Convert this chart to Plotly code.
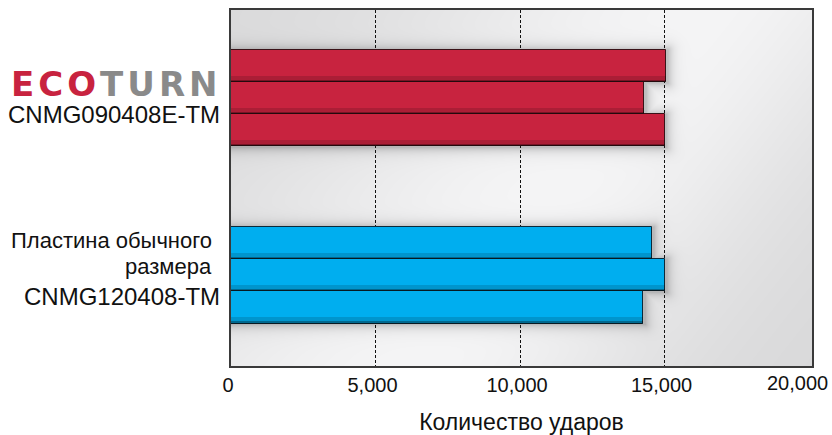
import base64, struct, zlib
import numpy as np
import plotly.graph_objects as go

# ---------------- data ----------------
ecoturn_label = "CNMG090408E-TM"
standard_label_lines = ["Пластина обычного", "размера", "CNMG120408-TM"]
ecoturn_hits = [15050, 14300, 15000]
standard_hits = [14570, 15020, 14270]
x_ticks = [0, 5000, 10000, 15000, 20000]
x_tick_labels = ["0", "5,000", "10,000", "15,000", "20,000"]
axis_title = "Количество ударов"

# ---------------- layout constants ----------------
W, H = 832, 435
L, R, T, B = 231, 20, 10, 69
PW, PH = W - L - R, H - T - B
XMAX = 20100
YMAX = 11.06
group_centers = [2.74, 8.24]
BW = 1.0
RED = "#c8233f"
BLUE = "#00aeef"


def ypos(center, n):
    return [center + (i - (n - 1) / 2) * BW for i in range(n)]


red_y = ypos(group_centers[0], len(ecoturn_hits))
blue_y = ypos(group_centers[1], len(standard_hits))

# ---------------- background gradient (styling) ----------------
X = L + np.arange(PW)[None, :] + 0.5
Y = T + np.arange(PH)[:, None] + 0.5
d = (X - 420) - 0.79 * (366 - Y)
sig = np.where(d > 0, 230.0, 300.0)
v = 0.848 + 0.112 * np.exp(-(d / sig) ** 2)

# soft shadow around bars, derived from the data
dist = np.full((PH, PW), 1e9)
for vals, ys in ((ecoturn_hits, red_y), (standard_hits, blue_y)):
    for val, yc in zip(vals, ys):
        x0, x1 = L, L + val / XMAX * PW + 2
        y0 = T + (yc - BW / 2) / YMAX * PH
        y1 = T + (yc + BW / 2) / YMAX * PH + 1
        dx = np.maximum(np.maximum(x0 - X, X - x1), 0)
        dy = np.maximum(np.maximum(y0 - Y, Y - y1), 0)
        dist = np.minimum(dist, np.sqrt(dx ** 2 + dy ** 2))
v = v * (1 - 0.22 * np.exp(-dist / 5.0))
img = np.clip(v * 255, 0, 255).astype(np.uint8)
rgb = np.stack([img, img, img + 1], axis=-1).clip(0, 255).astype(np.uint8)


def to_png(a):
    h, w, _ = a.shape
    raw = b"".join(b"\x00" + a[r].tobytes() for r in range(h))

    def chunk(t, data):
        c = struct.pack(">I", len(data)) + t + data
        return c + struct.pack(">I", zlib.crc32(t + data) & 0xFFFFFFFF)

    return (b"\x89PNG\r\n\x1a\n" + chunk(b"IHDR", struct.pack(">IIBBBBB", w, h, 8, 2, 0, 0, 0))
            + chunk(b"IDAT", zlib.compress(raw, 9)) + chunk(b"IEND", b""))


bg_src = "data:image/png;base64," + base64.b64encode(to_png(rgb)).decode()

# ---------------- figure ----------------
fig = go.Figure()
for vals, ys, col, edge in ((ecoturn_hits, red_y, RED, "#3a1218"),
                            (standard_hits, blue_y, BLUE, "#0b2a3a")):
    fig.add_trace(go.Bar(x=vals, y=ys, orientation="h", width=BW,
                         marker=dict(color=col, line=dict(color=edge, width=1)),
                         hoverinfo="x", showlegend=False))
    # darker shading at the lower edge of each bar
    fig.add_trace(go.Bar(x=vals, y=[y + BW / 2 - 0.1 for y in ys], orientation="h",
                         width=0.2, marker=dict(color="rgba(0,0,0,0.14)", line=dict(width=0)),
                         hoverinfo="skip", showlegend=False))
    fig.add_trace(go.Bar(x=vals, y=[y + BW / 2 - 0.035 for y in ys], orientation="h",
                         width=0.07, marker=dict(color="rgba(0,0,0,0.3)", line=dict(width=0)),
                         hoverinfo="skip", showlegend=False))


def py2paper(py):
    return 1 - (py - T) / PH


def px2paper(px):
    return (px - L) / PW


TXT = "#111111"
FONT = "Liberation Sans, Arial, sans-serif"
annotations = [
    dict(text='<b><span style="color:#c8233f;letter-spacing:4px">ECO</span>'
              '<span style="color:#8a8a8a;letter-spacing:4px">TURN</span></b>',
         font=dict(family="DejaVu Sans", size=34), x=px2paper(224), y=py2paper(84)),
    dict(text=ecoturn_label, font=dict(family=FONT, size=24, color=TXT),
         x=px2paper(222), y=py2paper(114)),
    dict(text=standard_label_lines[0], font=dict(family=FONT, size=22, color=TXT),
         x=px2paper(214), y=py2paper(240)),
    dict(text=standard_label_lines[1], font=dict(family=FONT, size=22, color=TXT),
         x=px2paper(214), y=py2paper(266)),
    dict(text=standard_label_lines[2], font=dict(family=FONT, size=24, color=TXT),
         x=px2paper(222), y=py2paper(296)),
    dict(text=x_tick_labels[-1], font=dict(family=FONT, size=20, color=TXT),
         x=px2paper(830), y=py2paper(383)),
]
for a in annotations:
    a.update(xref="paper", yref="paper", xanchor="right", yanchor="middle",
             showarrow=False)

fig.update_layout(
    width=W, height=H,
    margin=dict(l=L, r=R, t=T, b=B, autoexpand=False),
    paper_bgcolor="white", plot_bgcolor="#e2e2e2",
    barmode="overlay", bargap=0,
    images=[dict(source=bg_src, xref="paper", yref="paper", x=0, y=1, sizex=1, sizey=1,
                 sizing="stretch", xanchor="left", yanchor="top", layer="below")],
    annotations=annotations,
    xaxis=dict(range=[0, XMAX], tickvals=x_ticks[:-1], ticktext=x_tick_labels[:-1],
               tickfont=dict(family=FONT, size=20, color=TXT), ticks="",
               ticklabelshift=-3,
               showgrid=True, gridcolor="#111111", griddash="3px,2px", gridwidth=1,
               zeroline=False, showline=True, mirror=True, linecolor="#3a3a3a", linewidth=2,
               title=dict(text=axis_title, font=dict(family=FONT, size=23, color=TXT),
                          standoff=20),
               fixedrange=True),
    yaxis=dict(range=[YMAX, 0], showticklabels=False, showgrid=False, zeroline=False,
               showline=True, mirror=True, linecolor="#3a3a3a", linewidth=2, ticks="",
               fixedrange=True),
)

fig.write_html("out.html")
